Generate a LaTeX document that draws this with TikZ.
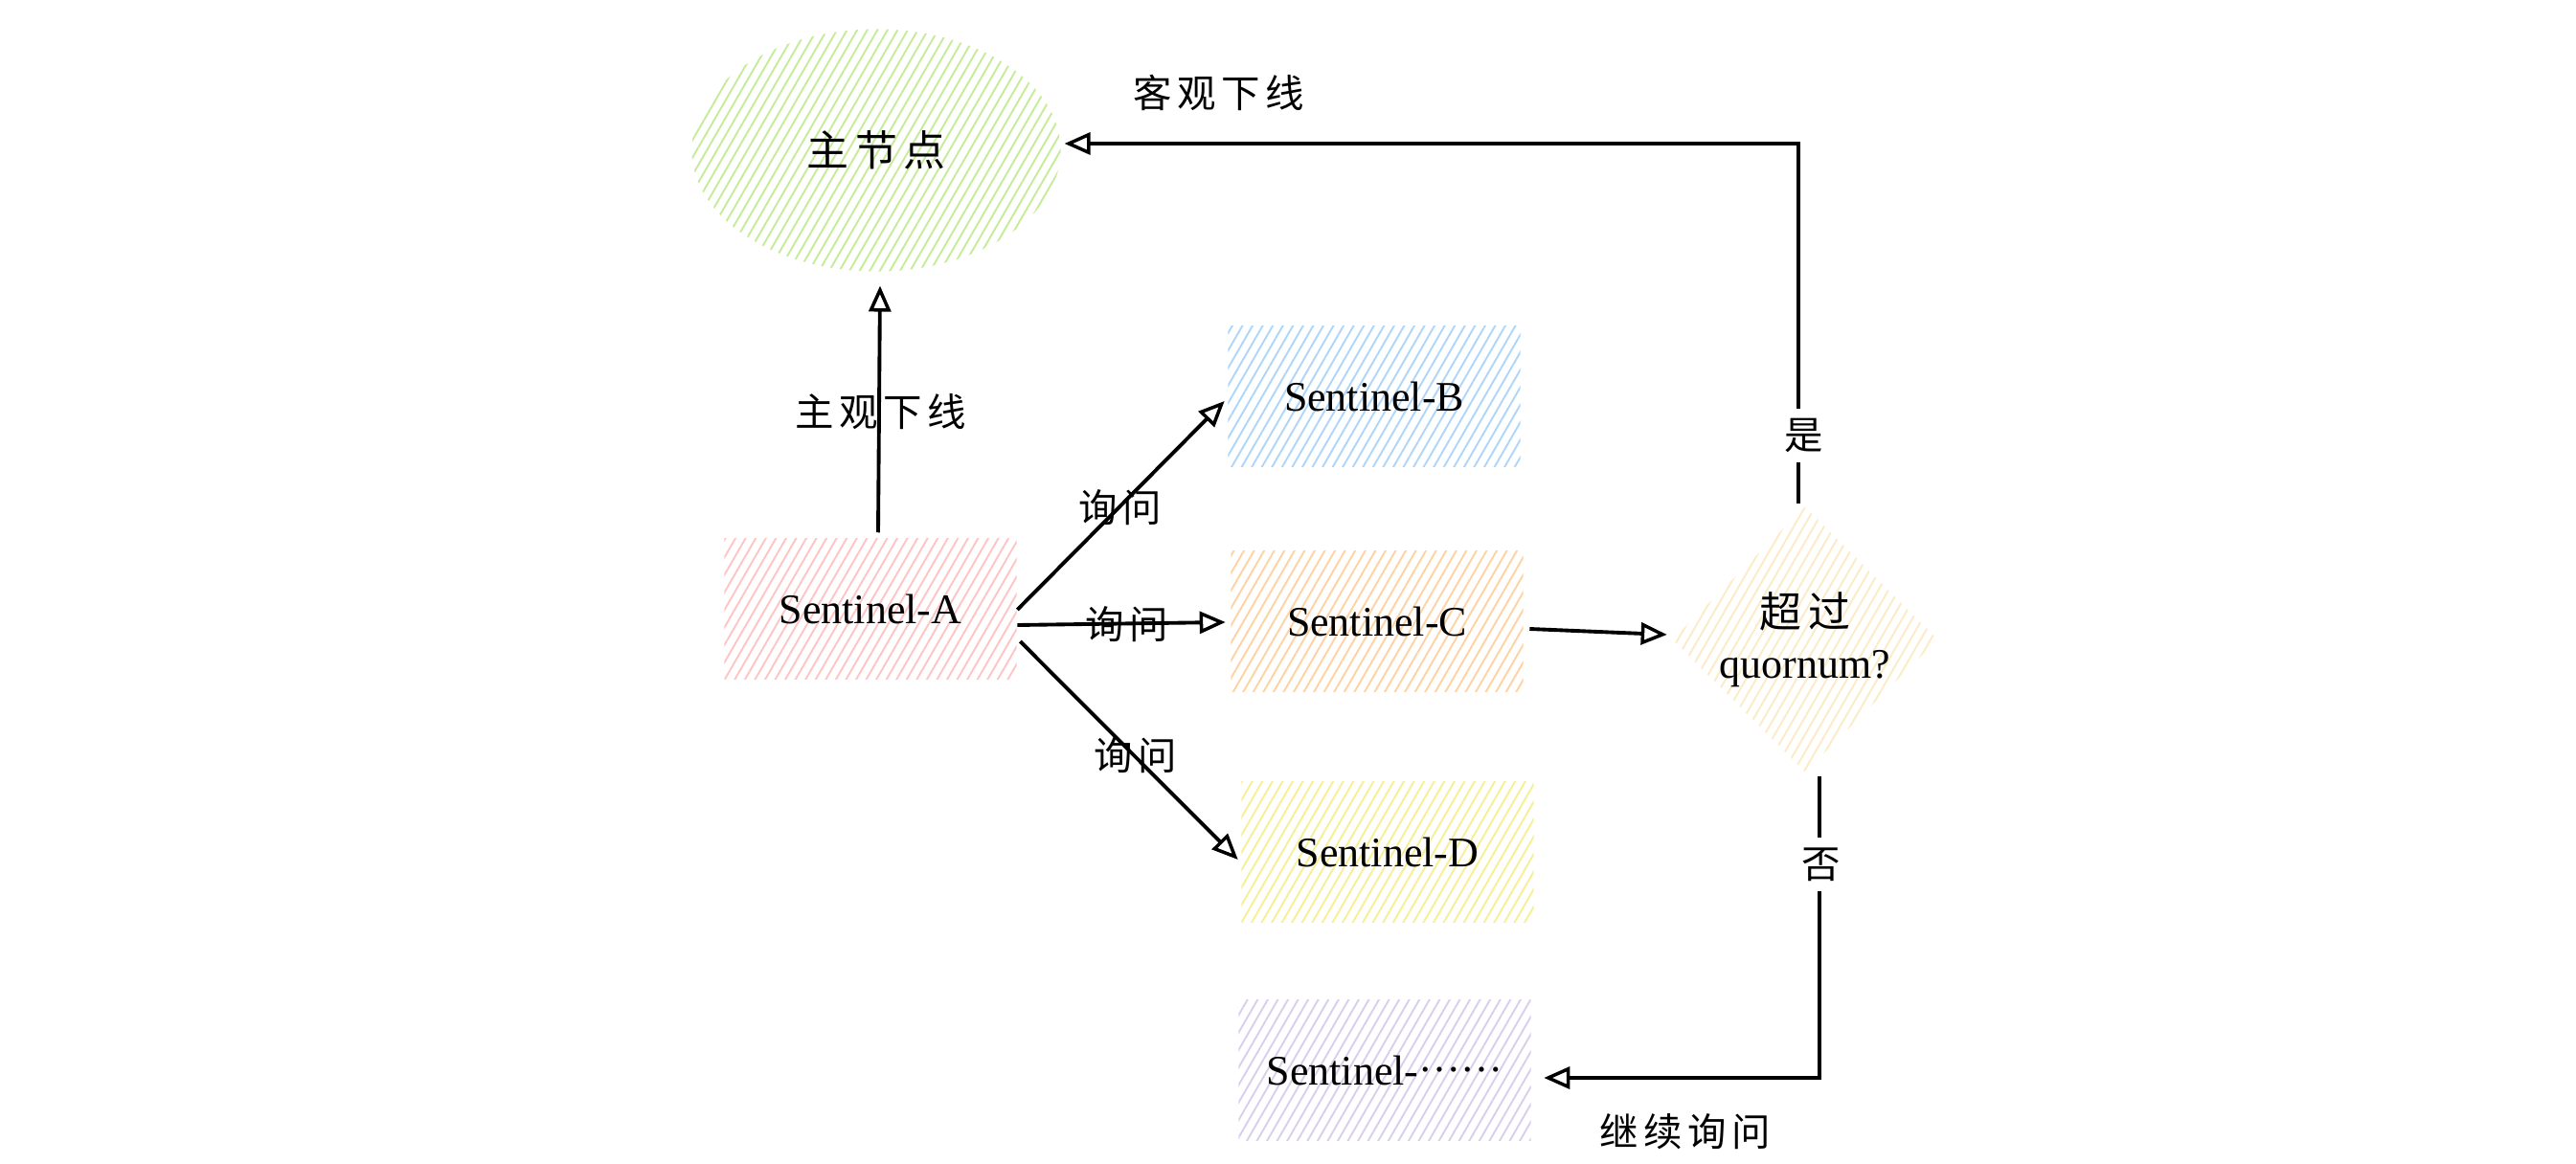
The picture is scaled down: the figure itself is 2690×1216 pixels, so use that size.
\documentclass[tikz,border=0pt]{standalone}
\usepackage{fontspec}
\setmainfont{Liberation Serif}
\newfontfamily\cjk[LetterSpace=14]{Noto Sans CJK SC}
\usetikzlibrary{patterns.meta,shapes.geometric,arrows.meta,calc}
\definecolor{cgreen}{HTML}{C6EC9A}
\definecolor{cpink}{HTML}{FFC4C4}
\definecolor{cblue}{HTML}{AED6FA}
\definecolor{corange}{HTML}{FFD2A4}
\definecolor{cyellow}{HTML}{F7EF96}
\definecolor{ccream}{HTML}{FBEBC6}
\definecolor{clav}{HTML}{D9CFEC}
\tikzset{
  hatch/.style={pattern={Lines[angle=60,distance=2.6pt,line width=0.55pt]},pattern color=#1},
  sbox/.style={rectangle,minimum width=3.05cm,minimum height=1.46cm,inner sep=0pt,font=\fontsize{12.5}{15}\selectfont},
  lbl/.style={inner sep=1pt,font=\cjk\fontsize{11.5}{14}\selectfont},
  arr/.style={draw=black,line width=1.1pt,-{Triangle[open,length=0.27cm,width=0.23cm,line width=1pt]}},
}
\begin{document}
\begin{tikzpicture}[x=0.01cm,y=-0.01cm]
\useasboundingbox (0,0) rectangle (2690,1216);
% nodes
\node[ellipse,minimum width=3.85cm,minimum height=2.53cm,inner sep=0pt,hatch=cgreen,font=\cjk\fontsize{12.5}{15}\selectfont] (M) at (915,157) {主节点};
\node[sbox,hatch=cpink] (A) at (909,636) {Sentinel-A};
\node[sbox,hatch=cblue] (B) at (1435,414) {Sentinel-B};
\node[sbox,hatch=corange] (C) at (1438,649) {Sentinel-C};
\node[sbox,hatch=cyellow] (D) at (1449,890) {Sentinel-D};
\node[sbox,hatch=clav] (E) at (1446,1118) {Sentinel-\raisebox{0.3em}{……}};
\node[diamond,minimum width=2.53cm,minimum height=2.5cm,inner sep=0pt,hatch=ccream,align=center,font=\fontsize{12.5}{15}\selectfont] (Q) at (1885,668) {{\cjk 超过}\\quornum?};
% connectors
\draw[arr] ($(A.north)+(8,-6)$) -- ($(M.south)+(4,14)$);
\draw[arr] ($(A.east)+(0,1)$) -- ($(B.west)+(-3,5)$);
\draw[arr] ($(A.east)+(0,17)$) -- ($(C.west)+(-5,1)$);
\draw[arr] ($(A.east)+(3,34)$) -- ($(D.west)+(-3,8)$);
\draw[arr] ($(C.east)+(6,8)$) -- ($(Q.west)+(-5,-5)$);
\coordinate (tr) at (1878,150);
\coordinate (br) at (1900,1126);
\draw[arr] ($(Q.north)+(-7,-3)$) -- (tr) -- ($(M.east)+(3,-7)$);
\draw[arr] ($(Q.south)+(15,4)$) -- (br) -- ($(E.east)+(13,8)$);
% labels
\node[lbl] (l1) at (920,430) {主观下线};
\node[lbl] (l2) at (1170,530) {询问};
\node[lbl] (l3) at (1177,652) {询问};
\node[lbl] (l4) at (1186,789) {询问};
\node[lbl] (l5) at (1273,97) {客观下线};
\node[lbl,fill=white,inner sep=3pt] (l6) at (1884,455) {是};
\node[lbl,fill=white,inner sep=3pt] (l7) at (1902,903) {否};
\node[lbl] (l8) at (1760,1182) {继续询问};
\end{tikzpicture}
\end{document}
